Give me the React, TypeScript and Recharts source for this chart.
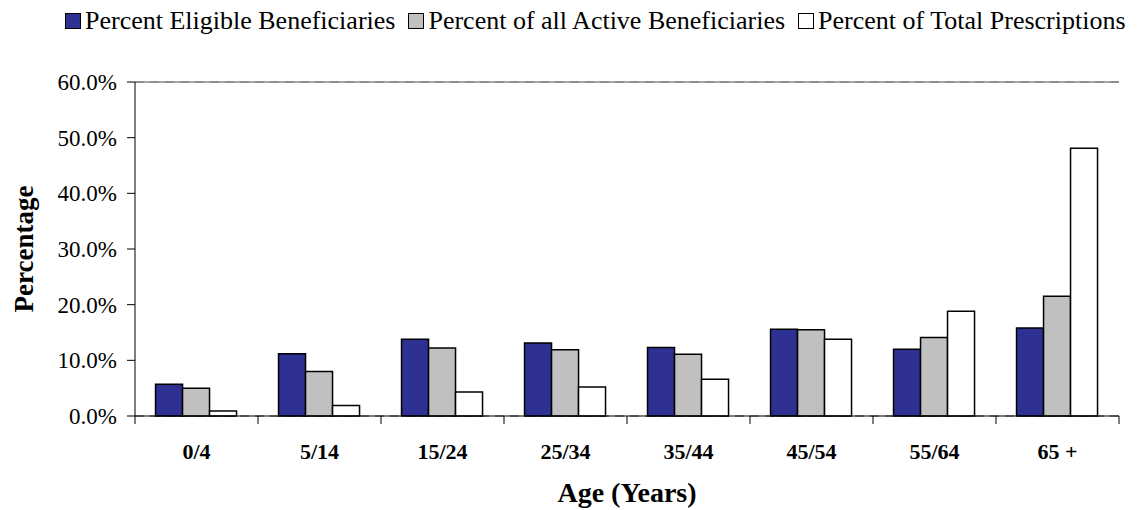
import React from 'react';
import { BarChart, Bar, XAxis, YAxis, CartesianGrid, ReferenceLine } from 'recharts';

const ageGroups = ['0/4', '5/14', '15/24', '25/34', '35/44', '45/54', '55/64', '65 +'];
const eligible = [5.7, 11.2, 13.8, 13.1, 12.3, 15.6, 12.0, 15.8];
const active = [5.0, 8.0, 12.2, 11.9, 11.1, 15.5, 14.1, 21.5];
const prescriptions = [0.9, 1.9, 4.3, 5.2, 6.6, 13.8, 18.8, 48.1];
const yTicks = [0, 10, 20, 30, 40, 50, 60];

const series = [
  { key: 'eligible', name: 'Percent Eligible Beneficiaries', color: '#2E3192' },
  { key: 'active', name: 'Percent of all Active Beneficiaries', color: '#C0C0C0' },
  { key: 'prescriptions', name: 'Percent of Total Prescriptions', color: '#FFFFFF' },
];

const data = ageGroups.map((age, i) => ({
  age,
  eligible: eligible[i],
  active: active[i],
  prescriptions: prescriptions[i],
}));

const font = '"Liberation Serif", "Times New Roman", serif';

// x ticks sit between categories, label in the middle
const AgeTick = (props: any) => {
  const { x, y, payload, index, width, visibleTicksCount } = props;
  const band = width / visibleTicksCount;
  const axisY = y - 27;
  return (
    <g>
      <line x1={x - band / 2} x2={x - band / 2} y1={axisY} y2={axisY + 8} stroke="#000" />
      {index === visibleTicksCount - 1 && (
        <line x1={x + band / 2} x2={x + band / 2} y1={axisY} y2={axisY + 8} stroke="#000" />
      )}
      <text x={x} y={y} dy="0.71em" textAnchor="middle" fontFamily={font} fontWeight="bold" fontSize={22} fill="#000">
        {payload.value}
      </text>
    </g>
  );
};

const App: React.FC = () => {
  return (
    <div style={{ position: 'absolute', left: 0, top: 0, width: 1137, height: 510, background: '#fff' }}>
      <div
        style={{
          position: 'absolute',
          top: 6,
          left: 65,
          display: 'flex',
          alignItems: 'center',
          fontFamily: font,
          fontSize: 26,
          lineHeight: '30px',
          color: '#000',
          whiteSpace: 'nowrap',
        }}
      >
        {series.map(s => (
          <div key={s.key} style={{ display: 'flex', alignItems: 'center', marginRight: 13 }}>
            <span
              style={{
                display: 'inline-block',
                width: 14,
                height: 14,
                background: s.color,
                border: '1.5px solid #000',
                marginRight: 4,
              }}
            />
            <span>{s.name}</span>
          </div>
        ))}
      </div>
      <BarChart
        width={1137}
        height={510}
        data={data}
        margin={{ top: 82, right: 18, left: 0, bottom: 0 }}
        barCategoryGap="16.7%"
        barGap={0}
      >
        <CartesianGrid vertical={false} stroke="#444" strokeDasharray="9 6" />
        <XAxis
          dataKey="age"
          height={94}
          tickSize={8}
          tickMargin={19}
          tickLine={{ stroke: 'none' }}
          axisLine={{ stroke: '#000' }}
          tick={<AgeTick />}
          interval={0}
          label={{
            value: 'Age (Years)',
            position: 'insideBottom',
            offset: 8,
            style: { fontFamily: font, fontWeight: 'bold', fontSize: 28, fill: '#000' },
          }}
        />
        <YAxis
          yAxisId="left"
          width={135}
          domain={[0, 60]}
          ticks={yTicks}
          tickFormatter={(v: number) => `${v.toFixed(1)}%`}
          tickSize={8}
          tickMargin={10}
          axisLine={{ stroke: '#000' }}
          tickLine={{ stroke: '#000' }}
          tick={{ fontFamily: font, fontSize: 23, fill: '#000' }}
          label={{
            value: 'Percentage',
            angle: -90,
            position: 'insideLeft',
            offset: 23,
            style: { textAnchor: 'middle', fontFamily: font, fontWeight: 'bold', fontSize: 27, fill: '#000' },
          }}
        />
        <YAxis
          yAxisId="right"
          orientation="right"
          width={0}
          domain={[0, 60]}
          tick={false}
          tickLine={false}
          axisLine={{ stroke: '#888', strokeWidth: 1.5 }}
        />
        <ReferenceLine yAxisId="left" y={60} stroke="#888" strokeWidth={1.5} />
        {series.map(s => (
          <Bar
            key={s.key}
            yAxisId="left"
            dataKey={s.key}
            name={s.name}
            fill={s.color}
            stroke="#000"
            strokeWidth={1.5}
            isAnimationActive={false}
          />
        ))}
      </BarChart>
    </div>
  );
};

export default App;
